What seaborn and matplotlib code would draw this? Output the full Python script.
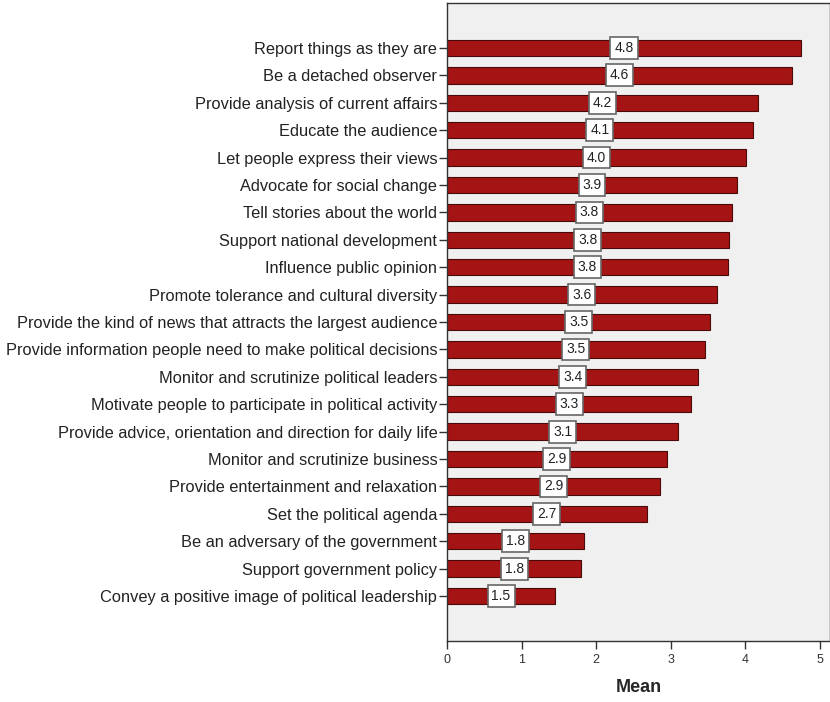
import numpy as np
import pandas as pd
import matplotlib
matplotlib.use('Agg')
import matplotlib.pyplot as plt
import seaborn as sns

items = ['Report things as they are', 'Be a detached observer', 'Provide analysis of current affairs',
         'Educate the audience', 'Let people express their views', 'Advocate for social change',
         'Tell stories about the world', 'Support national development', 'Influence public opinion',
         'Promote tolerance and cultural diversity', 'Provide the kind of news that attracts the largest audience',
         'Provide information people need to make political decisions', 'Monitor and scrutinize political leaders',
         'Motivate people to participate in political activity',
         'Provide advice, orientation and direction for daily life', 'Monitor and scrutinize business',
         'Provide entertainment and relaxation', 'Set the political agenda', 'Be an adversary of the government',
         'Support government policy', 'Convey a positive image of political leadership']
means = [4.75, 4.63, 4.18, 4.10, 4.01, 3.89, 3.82, 3.78, 3.77, 3.62, 3.53,
         3.46, 3.37, 3.28, 3.10, 2.95, 2.86, 2.68, 1.84, 1.80, 1.45]
value_labels = ['4.8', '4.6', '4.2', '4.1', '4.0', '3.9', '3.8', '3.8', '3.8', '3.6', '3.5',
                '3.5', '3.4', '3.3', '3.1', '2.9', '2.9', '2.7', '1.8', '1.8', '1.5']
x_ticks = [0, 1, 2, 3, 4, 5]

df = pd.DataFrame({'item': items, 'Mean': means})

sns.set_style('white')
plt.rcParams['font.family'] = ['Liberation Sans', 'DejaVu Sans']

fig = plt.figure(figsize=(8.3, 7.02), dpi=100)
ax = fig.add_axes([0.5386, 0.0869, 0.4614, 0.9088])
ax.set_facecolor('#f0f0f0')

sns.barplot(data=df, x='Mean', y='item', orient='h', color='#a51414', saturation=1,
            edgecolor='#4a0a0a', linewidth=0.8, width=0.6, ax=ax)

ax.bar_label(ax.containers[0], labels=value_labels, label_type='center', fontsize=10, color='#222222',
             bbox=dict(boxstyle='square,pad=0.28', facecolor='white', edgecolor='#666666', linewidth=1.2))

ax.set_xlim(0, 5.14)
ax.set_ylim(len(items) - 1 + 1.64, -1.64)
ax.set_xticks(x_ticks)
ax.set_ylabel('')
ax.set_xlabel('Mean', fontsize=13, fontweight='bold', labelpad=9)
ax.tick_params(axis='y', length=6, width=1, color='#333333', labelsize=11.8, labelcolor='#222222', pad=1, left=True)
ax.tick_params(axis='x', length=6, width=1, color='#333333', labelsize=9, labelcolor='#333333', bottom=True)
for s in ax.spines.values():
    s.set_color('#333333')
    s.set_linewidth(1)

plt.savefig('out.png', dpi=100)
